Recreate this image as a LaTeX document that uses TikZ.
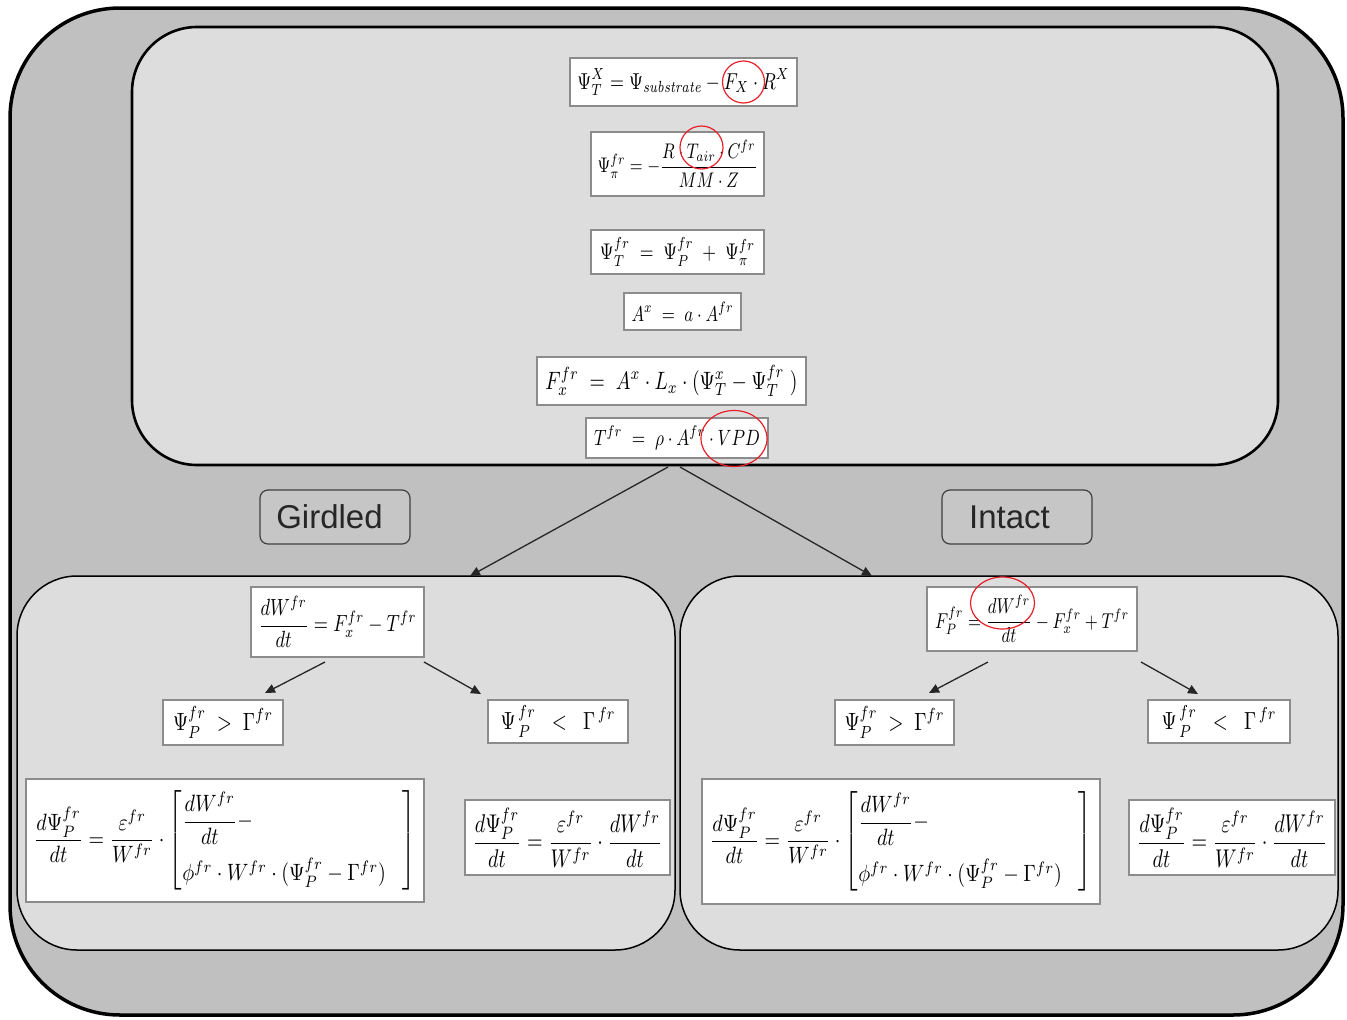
\documentclass[tikz,border=0pt]{standalone}
\usepackage{amsmath}
\usepackage{graphicx}
\usepackage{fontspec}
\newfontfamily\labelfont{Liberation Sans}
\usetikzlibrary{arrows.meta}
\definecolor{outergray}{HTML}{C0C0C0}
\definecolor{innergray}{HTML}{DDDDDD}
\definecolor{labelgray}{HTML}{C6C6C6}
\definecolor{eqborder}{HTML}{8C8C8C}
\definecolor{circred}{HTML}{E8202A}
\newcommand{\fitws}[3]{\resizebox{#1pt}{!}{\scalebox{1}[#2]{$\displaystyle #3$}}}
\newcommand{\fitw}[2]{\fitws{#1}{1.28}{#2}}
\tikzset{
  eqbox/.style={draw=eqborder, line width=1.3pt, fill=white, inner sep=0pt},
  panel/.style={draw=black, fill=innergray},
  tag/.style={draw=black!75, line width=1.2pt, fill=labelgray, rounded corners=8pt,
    minimum width=150pt, minimum height=54pt, inner sep=0pt, text=black!85,
    font=\labelfont\fontsize{33}{36}\selectfont},
  flow/.style={line width=1.3pt, draw=black!85, -{Triangle[length=10pt,width=9pt]}},
  redring/.style={draw=circred, line width=1.2pt}
}
\begin{document}
\begin{tikzpicture}[x=1pt,y=-1pt]
\useasboundingbox[fill=white] (0,0) rectangle (1347,1020);
% outer frame
\draw[line width=3.5pt, fill=outergray, rounded corners=110pt] (10,8) rectangle (1343,1015);
% top panel
\draw[panel, line width=2.6pt, rounded corners=65pt] (132,27) rectangle (1278,465);
% bottom panels
\draw[panel, line width=1.5pt, rounded corners=60pt] (17,576) rectangle (675,950);
\draw[panel, line width=1.5pt, rounded corners=60pt] (680,576) rectangle (1338,950);

% labels
\node[tag] (girdled) at (335,517) {\hspace*{-11pt}Girdled};
\node[tag] (intact) at (1017,517) {\hspace*{-15pt}Intact};

% top equations
\node[eqbox, minimum width=227pt, minimum height=48pt] (e1) at (683.5,82)
  {\fitw{212}{\Psi^{X}_{T}=\Psi_{\mathit{substrate}}-F_{X}\cdot R^{X}}};
\node[eqbox, minimum width=173pt, minimum height=64pt] (e2) at (677.5,164)
  {\fitw{160}{\Psi^{fr}_{\pi}=-\frac{R\cdot T_{air}\cdot C^{fr}}{MM\cdot Z}}};
\node[eqbox, minimum width=173pt, minimum height=44pt] (e3) at (677.5,252)
  {\fitw{155}{\Psi^{fr}_{T}\;=\;\Psi^{fr}_{P}\;+\;\Psi^{fr}_{\pi}}};
\node[eqbox, minimum width=117pt, minimum height=37pt] (e4) at (682.5,311.5)
  {\fitw{102}{A^{x}\;=\;a\cdot A^{fr}}};
\node[eqbox, minimum width=269pt, minimum height=48pt] (e5) at (671.5,381)
  {\fitw{252}{F^{fr}_{x}\;=\;A^{x}\cdot L_{x}\cdot(\Psi^{x}_{T}-\Psi^{fr}_{T}\;)}};
\node[eqbox, minimum width=182pt, minimum height=40pt] (e6) at (677,438)
  {\fitw{166}{T^{fr}\;=\;\rho\cdot A^{fr}\cdot VPD}};

% girdled equations
\node[eqbox, minimum width=173pt, minimum height=70pt] (g1) at (337.5,622)
  {\fitw{158}{\frac{dW^{fr}}{dt}=F^{fr}_{x}-T^{fr}}};
\node[eqbox, minimum width=120pt, minimum height=45pt] (g2) at (223,722.5)
  {\fitw{100}{\Psi^{fr}_{P}\;>\;\Gamma^{fr}}};
\node[eqbox, minimum width=140pt, minimum height=43pt] (g3) at (558,721.5)
  {\fitw{115}{\Psi^{\,fr}_{\,P}\;\;<\;\;\Gamma^{\,fr}}};
\node[eqbox, minimum width=398pt, minimum height=123pt] (g4) at (225,840.5)
  {\fitws{382}{1.18}{\frac{d\Psi^{fr}_{P}}{dt}=\frac{\varepsilon^{fr}}{W^{fr}}\cdot
   \left[\begin{array}{@{}l@{}}\dfrac{dW^{fr}}{dt}-\\[9pt]
   \phi^{fr}\cdot W^{fr}\cdot(\Psi^{fr}_{P}-\Gamma^{fr})\end{array}\;\;\;\right]}};
\node[eqbox, minimum width=205pt, minimum height=75pt] (g5) at (567.5,837.5)
  {\fitw{190}{\frac{d\Psi^{fr}_{P}}{dt}=\frac{\varepsilon^{fr}}{W^{fr}}\cdot\frac{dW^{fr}}{dt}}};

% intact equations
\node[eqbox, minimum width=210pt, minimum height=64pt] (i1) at (1032,619)
  {\fitw{194}{F^{fr}_{P}=\frac{dW^{fr}}{dt}-F^{fr}_{x}+T^{fr}}};
\node[eqbox, minimum width=119pt, minimum height=45pt] (i2) at (894.5,722.5)
  {\fitw{100}{\Psi^{fr}_{P}\;>\;\Gamma^{fr}}};
\node[eqbox, minimum width=142pt, minimum height=43pt] (i3) at (1219,721.5)
  {\fitw{115}{\Psi^{\,fr}_{\,P}\;\;<\;\;\Gamma^{\,fr}}};
\node[eqbox, minimum width=398pt, minimum height=125pt] (i4) at (901,841.5)
  {\fitws{382}{1.18}{\frac{d\Psi^{fr}_{P}}{dt}=\frac{\varepsilon^{fr}}{W^{fr}}\cdot
   \left[\begin{array}{@{}l@{}}\dfrac{dW^{fr}}{dt}-\\[9pt]
   \phi^{fr}\cdot W^{fr}\cdot(\Psi^{fr}_{P}-\Gamma^{fr})\end{array}\;\;\;\right]}};
\node[eqbox, minimum width=206pt, minimum height=75pt] (i5) at (1232,837.5)
  {\fitw{190}{\frac{d\Psi^{fr}_{P}}{dt}=\frac{\varepsilon^{fr}}{W^{fr}}\cdot\frac{dW^{fr}}{dt}}};

% red marks
\draw[redring] (743.5,82) ellipse [x radius=21pt, y radius=21pt];
\draw[redring] (701.5,147.5) ellipse [x radius=21.5pt, y radius=21.5pt];
\draw[redring] (734,438.5) ellipse [x radius=33pt, y radius=28pt];
\draw[redring] (1002.5,603) ellipse [x radius=32pt, y radius=26pt];

% connector end points
\coordinate (topL) at (668,467);
\coordinate (topR) at (680,467);
\coordinate (gIn) at (470,576);
\coordinate (iIn) at (872,576);
\coordinate (g1a) at (325,662);
\coordinate (g1b) at (424,662);
\coordinate (g2t) at (265,693);
\coordinate (g3t) at (481,694);
\coordinate (i1a) at (988,662);
\coordinate (i1b) at (1141,662);
\coordinate (i2t) at (929,693);
\coordinate (i3t) at (1198,694);

\draw[flow] (topL) -- (gIn);
\draw[flow] (topR) -- (iIn);
\draw[flow] (g1a) -- (g2t);
\draw[flow] (g1b) -- (g3t);
\draw[flow] (i1a) -- (i2t);
\draw[flow] (i1b) -- (i3t);
\end{tikzpicture}
\end{document}
